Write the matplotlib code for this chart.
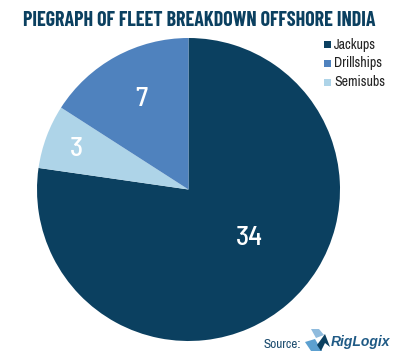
import matplotlib.pyplot as plt
from matplotlib.patches import Polygon, Rectangle

plt.rcParams["font.family"] = ["Archivo Narrow", "Liberation Sans", "DejaVu Sans"]

labels = ["Jackups", "Drillships", "Semisubs"]
legend_colors = ["#0B4060", "#4F82BE", "#AED4E8"]

# clockwise from the top, as in the picture
pie_values = [34, 3, 7]
pie_colors = ["#0B4060", "#AED4E8", "#4F82BE"]

title = "PIEGRAPH OF FLEET BREAKDOWN OFFSHORE INDIA"

fig = plt.figure(figsize=(4, 3.6), dpi=100, facecolor="white")

# pixel layer for the texts, legend and logo
bg = fig.add_axes([0, 0, 1, 1])
bg.set_xlim(0, 400)
bg.set_ylim(360, 0)
bg.axis("off")

ax = fig.add_axes([37 / 400, 19 / 360, 303 / 400, 303 / 360])
wedges, texts = ax.pie(pie_values, colors=pie_colors, startangle=90, counterclock=False, radius=1)
ax.set_xlim(-1, 1)
ax.set_ylim(-1, 1)

# number labels
for (x, y), v in zip([(0.4, -0.32), (-0.74, 0.27), (-0.31, 0.6)], pie_values):
    ax.text(x, y, str(v), color="white", fontsize=20, fontweight="medium", ha="center", va="center",
            family=["Barlow Semi Condensed", "Liberation Sans", "DejaVu Sans"])

t = bg.text(199, 20, title, color="#0B4060", fontsize=14, fontweight="bold", ha="center", va="center",
            family=["Barlow Condensed", "Liberation Sans", "DejaVu Sans"])
# size the title to the reference width, whichever font got picked
w = t.get_window_extent(fig.canvas.get_renderer()).width
t.set_fontsize(14 * 354 / w)

# legend
for y, lab, c in zip([44.5, 63.5, 82.5], labels, legend_colors):
    bg.add_patch(Rectangle((324, y - 3.5), 7, 7, color=c, lw=0))
    bg.text(334, y, lab, color="#222222", fontsize=10, ha="left", va="center")

# source + logo
bg.text(264, 344, "Source:", color="#1F4E70", fontsize=9.5, ha="left", va="center")
bg.add_patch(Polygon([[311, 329], [319, 329], [324, 335], [316, 338]], color="#8FBBDD", lw=0))
bg.add_patch(Polygon([[305, 342], [315, 339], [322, 351], [311, 351]], color="#5CA0D0", lw=0))
bg.add_patch(Polygon([[317, 345], [325, 334], [330, 347], [325, 343], [321, 351]], color="#0B4060", lw=0))
bg.text(331, 342, "RigLogix", color="#1F5A85", fontsize=10, fontweight="bold", style="italic",
        ha="left", va="center", family=["Liberation Sans", "DejaVu Sans"])

fig.savefig("out.png", dpi=100)
